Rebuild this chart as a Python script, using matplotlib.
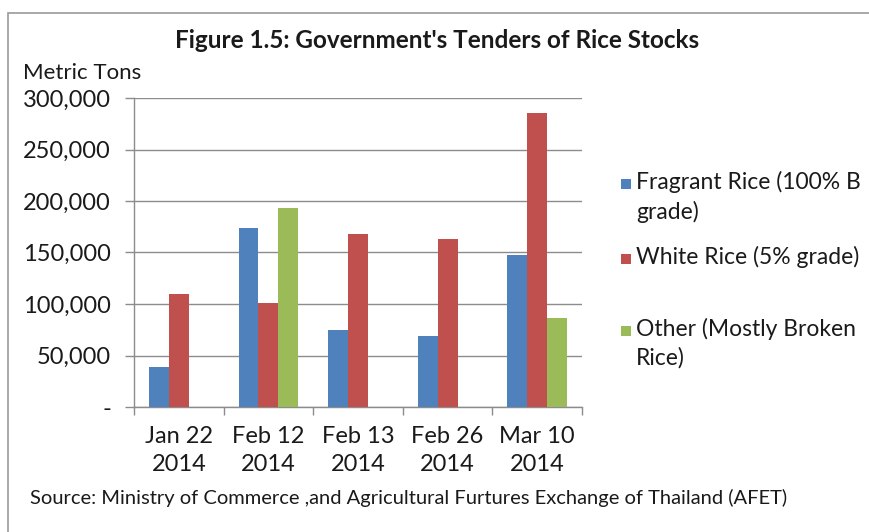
import matplotlib
matplotlib.use("Agg")
import matplotlib.pyplot as plt
from matplotlib.patches import Rectangle
from matplotlib.ticker import FuncFormatter
import numpy as np

plt.rcParams['font.family'] = ['Lato', 'DejaVu Sans']

categories = ["Jan 22\n2014", "Feb 12\n2014", "Feb 13\n2014", "Feb 26\n2014", "Mar 10\n2014"]
series_names = ["Fragrant Rice (100% B\ngrade)", "White Rice (5% grade)", "Other (Mostly Broken\nRice)"]
fragrant = [39000, 174000, 75000, 69000, 148000]
white = [110000, 101000, 168000, 163000, 285000]
other = [0, 193000, 0, 0, 86000]
colors = ["#4F81BD", "#C0504D", "#9BBB59"]

TXT = '#1a1a1a'
fig = plt.figure(figsize=(8.7, 5.32), dpi=100)
ax = fig.add_axes([134/870, 1-407/532, (582-134)/870, (407-98)/532])

x = np.arange(len(categories))
w = 1/4.5
for i, (vals, c, name) in enumerate(zip([fragrant, white, other], colors, series_names)):
    ax.bar(x + (i-1)*w, vals, width=w, color=c, label=name, zorder=3)

ax.set_xlim(-0.5, len(categories)-0.5)
ax.set_ylim(0, 300000)
ax.set_yticks(np.arange(0, 300001, 50000))
ax.yaxis.set_major_formatter(FuncFormatter(lambda v, p: "-" if v == 0 else f"{int(v):,}"))
ax.grid(axis='y', color='#8c8c8c', linewidth=1.0, zorder=0)
ax.set_axisbelow(True)

ax.set_xticks(x)
ax.set_xticklabels(categories, fontsize=17, linespacing=1.4, color=TXT)
ax.set_xticks(np.arange(-0.5, len(categories)), minor=True)
ax.tick_params(axis='x', which='major', length=0, pad=14)
ax.tick_params(axis='x', which='minor', length=6, color='#8c8c8c', width=1)
ax.tick_params(axis='y', length=6.5, color='#8c8c8c', width=1, labelsize=17, pad=10, labelcolor=TXT)

for s in ['top', 'right']:
    ax.spines[s].set_visible(False)
for s in ['left', 'bottom']:
    ax.spines[s].set_color('#8c8c8c')
    ax.spines[s].set_linewidth(1.0)

fig.text(437/870, 1-40/532, "Figure 1.5: Government's Tenders of Rice Stocks",
         ha='center', va='center', fontsize=17.5, fontweight='bold', color=TXT)
fig.text(23/870, 1-73/532, "Metric Tons", ha='left', va='center', fontsize=16, color=TXT)
fig.text(30/870, 1-498/532, "Source: Ministry of Commerce ,and Agricultural Furtures Exchange of Thailand (AFET)",
         ha='left', va='center', fontsize=14.5, color=TXT)

# legend: three entries placed like the original (handle beside first line)
leg_tops = [184, 259, 331]
for name, c, yt in zip(series_names, colors, leg_tops):
    fig.patches.append(Rectangle((621/870, 1-(yt+5)/532), 10/870, 10/532,
                                 transform=fig.transFigure, facecolor=c, edgecolor='none'))
    fig.text(636/870, 1-(yt-13)/532, name, ha='left', va='top', fontsize=16.5,
             linespacing=1.42, color=TXT)

fig.patches.append(Rectangle((8/870, -0.1), 1.2, (1-13/532)+0.1, transform=fig.transFigure,
                             fill=False, edgecolor='#9a9a9a', linewidth=1.2))

fig.savefig("out.png", dpi=100)
